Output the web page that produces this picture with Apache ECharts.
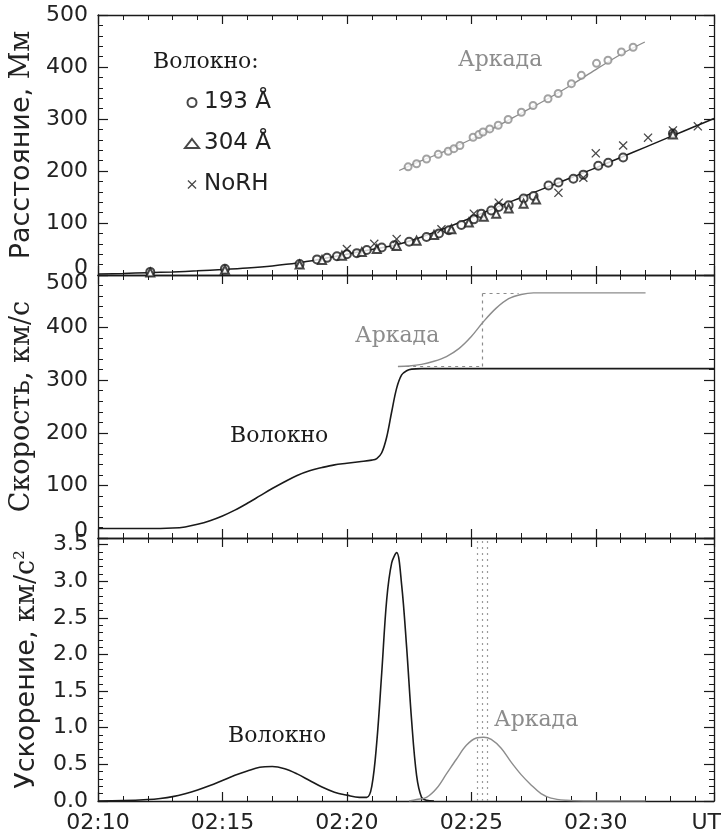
<!DOCTYPE html>
<html><head><meta charset="utf-8">
<script src="https://cdn.jsdelivr.net/npm/echarts@6/dist/echarts.min.js"></script>
<style>html,body{margin:0;padding:0;background:#fff}#c{width:723px;height:838px}</style>
</head><body><div id="c"></div>
<script>
const tMin = 10, tMax = 34.75;
const tickLabelPrefix = '02:';

const filFitT = [10,11,12,13,14,15,16,17,18,19,20,21,22,23,24,25,26,27,28,29,30,31,32,33,34,34.75];
const filFitD = [2,3,4.5,6,8,10.5,13.5,17.5,23,31,40,49,58,73,91,110,130,149,168,187,206,226,246,266,286,301];
const arcFitT = [22.1,23,24,25,26,27,28,29,30,31,31.97];
const arcFitD = [201,220,239,261,285,311,337,365,395,424,448];
const arcPtsT = [22.46,22.8,23.2,23.67,24.07,24.3,24.54,25.07,25.3,25.47,25.74,26.08,26.48,27.01,27.48,28.08,28.49,29.02,29.42,30.03,30.49,31.03,31.5];
const arcPtsD = [208,214,223,232,238,243,249,265,270,275,281,288,299,313,326,339,349,368,384,407,413,429,438];
const p193T = [12.1,15.1,18.1,18.8,19.2,19.6,20.0,20.4,20.8,21.4,21.9,22.5,23.2,23.7,24.1,24.6,25.1,25.4,25.8,26.1,26.5,27.1,27.5,28.1,28.5,29.1,29.5,30.1,30.5,31.1,33.1];
const p193D = [6,12,21,30,33,36,40,42,48,53,57,64,73,80,86,96,107,118,124,131,134,147,152,172,178,185,193,210,216,226,272];
const p304T = [12.1,15.1,18.1,19.0,19.8,20.6,21.2,22.0,22.8,23.5,24.2,24.9,25.5,26.0,26.5,27.1,27.6,33.1];
const p304D = [5,10,20,29,37,44,50,56,66,77,88,101,112,118,128,137,145,270];
const pNoRHT = [20.0,21.1,22.0,23.8,25.1,26.1,28.5,29.5,30.0,31.1,32.1,33.1,34.1];
const pNoRHD = [50,60,69,88,118,139,158,187,234,249,264,278,286];

const velFilT = [10,11,12,13,13.5,14,14.5,15,15.5,16,16.5,17,17.5,18,18.5,19,19.5,20,20.5,21,21.2,21.4,21.6,21.8,22.0,22.2,22.4,22.6,23,25,28,31,34.75];
const velFilV = [18,18,18,19,21,26,33,42,53,66,80,94,107,119,128,134,139,142,145,148,151,162,192,240,285,310,318,321,322,322,322,322,322];
const velArcT = [22.05,22.5,23,23.5,24,24.5,25,25.5,26,26.5,27,27.5,28.5,30,32];
const velArcV = [326,327,330,336,345,360,383,412,437,455,463,466,466,466,466];
const velMarkT = 25.45, velMarkLow = 326, velMarkHigh = 466, velMarkStartT = 22.1, velMarkEndT = 26.9;

const accFilT = [10,11,12,12.5,13,13.5,14,14.5,15,15.5,16,16.5,17,17.5,18,18.5,19,19.5,20,20.5,20.8,21.0,21.2,21.4,21.6,21.8,22.0,22.2,22.4,22.6,22.8,23.0,23.2,23.5];
const accFilA = [0,0.005,0.02,0.035,0.06,0.1,0.15,0.21,0.28,0.35,0.41,0.46,0.47,0.44,0.37,0.28,0.19,0.12,0.08,0.05,0.05,0.2,0.8,1.75,2.75,3.25,3.39,2.95,2.1,1.1,0.35,0.05,0.01,0];
const accArcT = [22.5,22.8,23.2,23.6,24.0,24.4,24.8,25.2,25.5,25.8,26.2,26.6,27.0,27.4,27.8,28.2,28.8,29.5,30.5,32];
const accArcA = [0,0.02,0.05,0.17,0.37,0.57,0.76,0.86,0.87,0.84,0.72,0.53,0.36,0.22,0.1,0.04,0.01,0,0,0];
const accMarkT = [25.25,25.45,25.65];

const zip = (a,b) => a.map((v,i)=>[v,b[i]]);
const BLACK = '#1a1a1a', GRAY = '#8c8c8c', TXT = '#222';
const SANS = 'DejaVu Sans', SERIF = 'DejaVu Serif';

const chart = echarts.init(document.getElementById('c'), null, {renderer:'canvas'});

const grids = [
  {left:98, right:9, top:15, height:260},
  {left:98, right:9, top:275, height:263},
  {left:98, right:9, top:538, height:263}
];

function xAx(gi, pos, showLabel){
  return {
    type:'value', gridIndex:gi, min:tMin, max:tMax, interval:5, position:pos,
    axisLine:{show:true, onZero:false, lineStyle:{color:BLACK, width:1.3}},
    axisTick:{show:true, inside:true, length:9, lineStyle:{color:BLACK, width:1.2}},
    minorTick:{show:true, splitNumber:5, length:5, lineStyle:{color:BLACK, width:1}},
    splitLine:{show:false}, minorSplitLine:{show:false},
    axisLabel:{show:showLabel, showMaxLabel:false, margin:11, fontFamily:SANS, fontSize:22, color:TXT,
      formatter: v => tickLabelPrefix + String(v).padStart(2,'0')}
  };
}
const labRich = {
  up:{padding:[0,0,14,0], fontFamily:SANS, fontSize:22, color:TXT},
  dn:{padding:[16,0,0,0], fontFamily:SANS, fontSize:22, color:TXT}
};
function yAx(gi, pos, min, max, interval, showLabel, fmt, name){
  const ax = {
    type:'value', gridIndex:gi, min:min, max:max, interval:interval, position:pos,
    axisLine:{show:true, onZero:false, lineStyle:{color:BLACK, width:1.3}},
    axisTick:{show:true, inside:true, length:10, lineStyle:{color:BLACK, width:1.2}},
    minorTick:{show:true, splitNumber:5, length:5, lineStyle:{color:BLACK, width:1}},
    splitLine:{show:false}, minorSplitLine:{show:false},
    axisLabel:{show:showLabel, showMaxLabel: max%interval===0, margin:10, fontFamily:SANS, fontSize:22, color:TXT, formatter:fmt, rich:labRich}
  };
  if (name) {
    ax.name = name; ax.nameLocation = 'middle'; ax.nameRotate = 90; ax.nameGap = 58;
    ax.nameTextStyle = {rich:{
      a:{fontFamily:SANS, fontSize:27, color:TXT},
      b:{fontFamily:SERIF, fontSize:27, color:TXT},
      s:{fontFamily:SERIF, fontSize:15, color:TXT, verticalAlign:'top', padding:[0,0,12,0]}
    }};
  }
  return ax;
}

const xAxis = [
  xAx(0,'bottom',false), xAx(0,'top',false),
  xAx(1,'bottom',false), xAx(1,'top',false),
  xAx(2,'bottom',true),  xAx(2,'top',false)
];
const yAxis = [
  yAx(0,'left',0,500,100,true, v => v===0 ? '{up|0}' : String(v), '{a|Расстояние, }{b|Мм}'),
  yAx(0,'right',0,500,100,false),
  yAx(1,'left',0,500,100,true, v => v===0 ? '{up|0}' : (v===500 ? '{dn|500}' : String(v)), '{b|Скорость, км/с}'),
  yAx(1,'right',0,500,100,false),
  yAx(2,'left',0,3.59,0.5,true, v => v.toFixed(1), '{a|Ускорение, }{b|км/с}{s|2}'),
  yAx(2,'right',0,3.59,0.5,false)
];

const crossPath = 'path://M0,1L1,0L5,4L9,0L10,1L6,5L10,9L9,10L5,6L1,10L0,9L4,5Z';
const lineBase = (name, xi, data, color, w) => ({
  name, type:'line', xAxisIndex:xi, yAxisIndex:xi, data, symbol:'none', smooth:0.35,
  lineStyle:{color, width:w}, z:3, silent:true
});
const dash = {color:GRAY, width:1.2, type:[3,4]};

const series = [
  lineBase('filFit',0,zip(filFitT,filFitD),BLACK,1.5),
  lineBase('arcFit',0,zip(arcFitT,arcFitD),GRAY,1.3),
  {name:'arc', type:'scatter', xAxisIndex:0, yAxisIndex:0, data:zip(arcPtsT,arcPtsD), symbol:'emptyCircle', symbolSize:7,
   itemStyle:{color:GRAY, borderColor:GRAY, borderWidth:1.1}, z:4},
  {name:'193 Å', type:'scatter', xAxisIndex:0, yAxisIndex:0, data:zip(p193T,p193D), symbol:'emptyCircle', symbolSize:8,
   itemStyle:{color:BLACK, borderColor:BLACK, borderWidth:1.1}, z:5},
  {name:'304 Å', type:'scatter', xAxisIndex:0, yAxisIndex:0, data:zip(p304T,p304D), symbol:'emptyTriangle', symbolSize:8,
   itemStyle:{color:BLACK, borderColor:BLACK, borderWidth:1.1}, z:5},
  {name:'NoRH', type:'scatter', xAxisIndex:0, yAxisIndex:0, data:zip(pNoRHT,pNoRHD), symbol:crossPath, symbolSize:9,
   itemStyle:{color:BLACK}, z:5},
  lineBase('velFil',2,zip(velFilT,velFilV),BLACK,1.6),
  Object.assign(lineBase('velArc',2,zip(velArcT,velArcV),GRAY,1.4), {
    markLine:{silent:true, symbol:['none','none'], label:{show:false}, lineStyle:dash, animation:false,
      data:[
        [{coord:[velMarkT,velMarkLow]},{coord:[velMarkT,velMarkHigh]}],
        [{coord:[velMarkT,velMarkHigh]},{coord:[velMarkEndT,velMarkHigh]}],
        [{coord:[velMarkStartT,velMarkLow]},{coord:[velMarkT,velMarkLow]}]
      ]}
  }),
  lineBase('accFil',4,zip(accFilT,accFilA),BLACK,1.6),
  Object.assign(lineBase('accArc',4,zip(accArcT,accArcA),GRAY,1.4), {
    markLine:{silent:true, symbol:['none','none'], label:{show:false}, animation:false,
      lineStyle:{color:'#9a9a9a', width:1.2, type:[2,4]},
      data: accMarkT.map(t => ({xAxis:t}))}
  })
];

const txt = (x, y, text, color, font, size, align) => ({
  type:'text', x, y,
  style:{text, fill:color, font: size+'px "'+font+'"', textAlign:align||'left', textVerticalAlign:'middle'}
});

chart.setOption({
  animation:false,
  backgroundColor:'#fff',
  grid:grids,
  xAxis, yAxis, series,
  legend:{
    data:['193 Å','304 Å','NoRH'], orient:'vertical', left:184, top:91, padding:0,
    itemWidth:14, itemHeight:9, itemGap:18, selectedMode:false,
    textStyle:{fontFamily:SANS, fontSize:23, color:TXT, lineHeight:22}
  },
  graphic:[
    txt(153,62,'Волокно:',BLACK,SERIF,22),
    txt(458,60,'Аркада',GRAY,SERIF,22),
    txt(355,336,'Аркада',GRAY,SERIF,22),
    txt(230,436,'Волокно',BLACK,SERIF,22),
    txt(228,736,'Волокно',BLACK,SERIF,22),
    txt(494,720,'Аркада',GRAY,SERIF,22),
    txt(721,823,'UT',TXT,SANS,22,'right')
  ]
});
</script></body></html>
